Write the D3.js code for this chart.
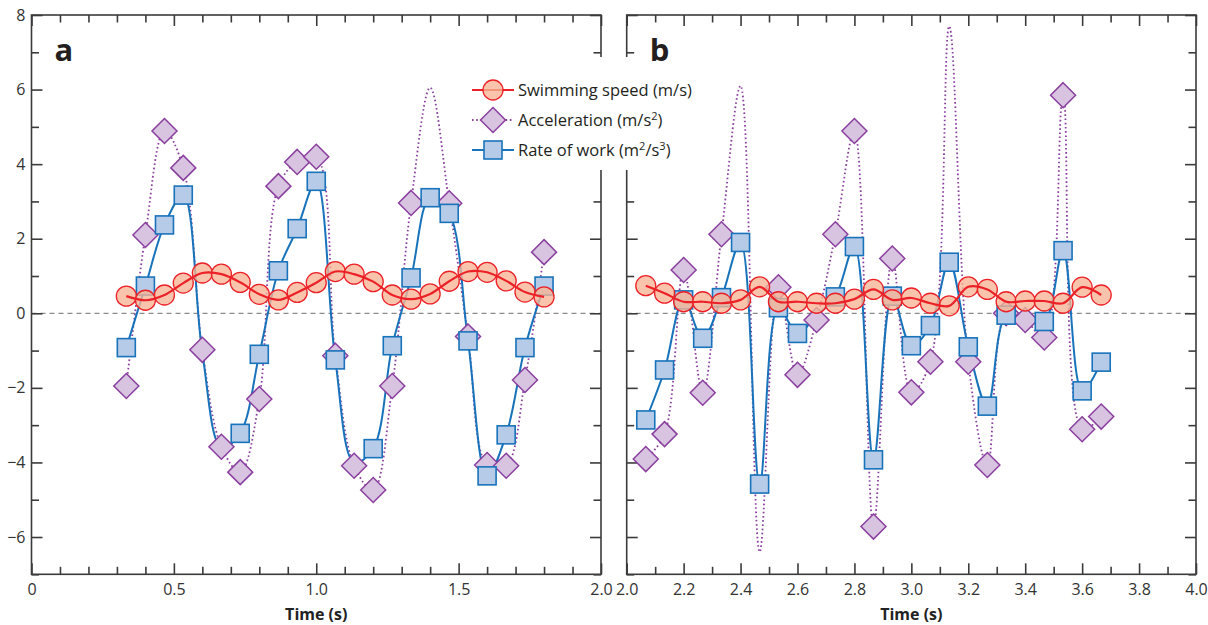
<!DOCTYPE html>
<html>
<head>
<meta charset="utf-8">
<script src="https://cdn.jsdelivr.net/npm/d3@7"></script>
<style>
  html, body { margin: 0; padding: 0; background: #fff; }
  svg { display: block; }
  text { font-family: "Open Sans", "Noto Sans", sans-serif; }
</style>
</head>
<body>
<svg id="chart" width="1208" height="625"></svg>
<script>
// ---------------- DATA ----------------
// Panel a
const timeA  = [0.333,0.4,0.467,0.533,0.6,0.667,0.733,0.8,0.867,0.933,1.0,1.067,1.133,1.2,1.267,1.333,1.4,1.467,1.533,1.6,1.667,1.733,1.8];
const speedA = [0.46,0.35,0.49,0.81,1.08,1.05,0.83,0.51,0.36,0.56,0.82,1.12,1.05,0.85,0.49,0.38,0.52,0.86,1.12,1.1,0.87,0.57,0.44];
const accelA = [-1.95,2.1,4.89,3.9,-0.98,-3.58,-4.26,-2.3,3.41,4.06,4.2,-1.14,-4.09,-4.74,-1.95,2.96,6.05,2.95,-0.62,-4.07,-4.09,-1.79,1.64];
const workA  = [-0.92,0.73,2.37,3.17,-1.06,-3.6,-3.22,-1.1,1.14,2.27,3.54,-1.25,-4.0,-3.63,-0.87,0.95,3.1,2.68,-0.74,-4.36,-3.26,-0.92,0.73];
const workNoMarkerA = [0.6,0.667,1.133];

// Panel b
const timeB  = [2.067,2.133,2.2,2.267,2.333,2.4,2.467,2.533,2.6,2.667,2.733,2.8,2.867,2.933,3.0,3.067,3.133,3.2,3.267,3.333,3.4,3.467,3.533,3.6,3.667];
const speedB = [0.74,0.54,0.31,0.31,0.27,0.36,0.71,0.31,0.31,0.27,0.27,0.38,0.64,0.36,0.41,0.27,0.2,0.71,0.64,0.31,0.33,0.33,0.27,0.70,0.49];
const accelB = [-3.91,-3.24,1.16,-2.13,2.12,6.1,-6.4,0.7,-1.65,-0.18,2.12,4.89,-5.72,1.47,-2.12,-1.3,7.7,-1.3,-4.07,0.0,-0.18,-0.65,5.85,-3.11,-2.77];
const workB  = [-2.86,-1.52,0.36,-0.67,0.42,1.9,-4.58,0.15,-0.54,-0.05,0.44,1.79,-3.93,0.46,-0.87,-0.33,1.37,-0.9,-2.49,-0.05,-0.06,-0.22,1.68,-2.08,-1.31];
const workNoMarkerB = [2.667,3.4];

// Axes
const xDomainA = [0, 2];
const xDomainB = [2, 4];
const yDomain  = [-7, 8];
const xMinorTicksA = [0,0.1,0.2,0.3,0.4,0.5,0.6,0.7,0.8,0.9,1.0,1.1,1.2,1.3,1.4,1.5,1.6,1.7,1.8,1.9,2.0];
const xMajorTicksA = [0,0.5,1.0,1.5,2.0];
const xTickLabelsA = ["0","0.5","1.0","1.5","2.0"];
const xMinorTicksB = [2.0,2.1,2.2,2.3,2.4,2.5,2.6,2.7,2.8,2.9,3.0,3.1,3.2,3.3,3.4,3.5,3.6,3.7,3.8,3.9,4.0];
const xMajorTicksB = [2.0,2.2,2.4,2.6,2.8,3.0,3.2,3.4,3.6,3.8,4.0];
const xTickLabelsB = ["2.0","2.2","2.4","2.6","2.8","3.0","3.2","3.4","3.6","3.8","4.0"];
const yMinorTicks = [-7,-6,-5,-4,-3,-2,-1,0,1,2,3,4,5,6,7,8];
const yMajorTicks = [-6,-4,-2,0,2,4,6,8];
const yTickLabels = ["\u22126","\u22124","\u22122","0","2","4","6","8"];

const panelLabels = ["a", "b"];
const xAxisTitle = "Time (s)";
const legendNames = ["Swimming speed (m/s)", "Acceleration (m/s", "Rate of work (m"];

// ---------------- STYLE ----------------
const RED = "#ec2027", CIRC_FILL = "#f7b394";
const PURPLE = "#8a3f9e", DIAM_FILL = "#d8c4e1";
const BLUE = "#1873bb", SQ_FILL = "#b6cbe8";
const AXIS = "#3b3b3b";
const accelMarkerLimit = 6;

const svg = d3.select("#chart");
const yTop = 15, yBot = 574.3;
const y = d3.scaleLinear().domain(yDomain).range([yBot, yTop]);

const panels = [
  { dom: xDomainA, left: 31.5, right: 601, t: timeA, speed: speedA, accel: accelA, work: workA, noMark: workNoMarkerA,
    minor: xMinorTicksA, major: xMajorTicksA, labels: xTickLabelsA, label: panelLabels[0], yLabels: true },
  { dom: xDomainB, left: 626.7, right: 1196, t: timeB, speed: speedB, accel: accelB, work: workB, noMark: workNoMarkerB,
    minor: xMinorTicksB, major: xMajorTicksB, labels: xTickLabelsB, label: panelLabels[1], yLabels: false }
];

const curve = d3.curveCatmullRom.alpha(0.5);
const labelLayer = [];

panels.forEach(p => {
  const x = d3.scaleLinear().domain(p.dom).range([p.left, p.right]);
  const g = svg.append("g");

  // zero dashed line
  g.append("line").attr("x1", p.left).attr("x2", p.right)
    .attr("y1", y(0)).attr("y2", y(0))
    .attr("stroke", "#8a8a8a").attr("stroke-width", 1.2).attr("stroke-dasharray", "5,4");

  function styleAxis(sel) {
    sel.select(".domain").remove();
    sel.selectAll(".tick line").attr("stroke", AXIS).attr("stroke-width", 1.6);
    sel.selectAll(".tick text").attr("fill", "#333").style("font-size", "16px")
      .style("font-family", "'Open Sans', 'Noto Sans', sans-serif");
  }
  const minorSet = p.minor.filter(v => !p.major.some(m => Math.abs(m - v) < 1e-9));
  const yMinorSet = yMinorTicks.filter(v => !yMajorTicks.includes(v));

  // bottom
  g.append("g").attr("transform", `translate(0,${yBot})`)
    .call(d3.axisBottom(x).tickValues(minorSet).tickSize(-7.5).tickFormat("")).call(styleAxis);
  g.append("g").attr("transform", `translate(0,${yBot})`)
    .call(d3.axisBottom(x).tickValues(p.major).tickSize(-11).tickPadding(9)
      .tickFormat((d, i) => p.labels[i])).call(styleAxis);
  // top
  g.append("g").attr("transform", `translate(0,${yTop})`)
    .call(d3.axisTop(x).tickValues(minorSet).tickSize(-7.5).tickFormat("")).call(styleAxis);
  g.append("g").attr("transform", `translate(0,${yTop})`)
    .call(d3.axisTop(x).tickValues(p.major).tickSize(-11).tickFormat("")).call(styleAxis);
  // left
  g.append("g").attr("transform", `translate(${p.left},0)`)
    .call(d3.axisLeft(y).tickValues(yMinorSet).tickSize(-7.5).tickFormat("")).call(styleAxis);
  g.append("g").attr("transform", `translate(${p.left},0)`)
    .call(d3.axisLeft(y).tickValues(yMajorTicks).tickSize(-11).tickPadding(6)
      .tickFormat((d, i) => p.yLabels ? yTickLabels[i] : "")).call(styleAxis);
  // right
  g.append("g").attr("transform", `translate(${p.right},0)`)
    .call(d3.axisRight(y).tickValues(yMinorSet).tickSize(-7.5).tickFormat("")).call(styleAxis);
  g.append("g").attr("transform", `translate(${p.right},0)`)
    .call(d3.axisRight(y).tickValues(yMajorTicks).tickSize(-11).tickFormat("")).call(styleAxis);

  // frame
  g.append("rect").attr("x", p.left).attr("y", yTop)
    .attr("width", p.right - p.left).attr("height", yBot - yTop)
    .attr("fill", "none").attr("stroke", AXIS).attr("stroke-width", 1.6);

  // axis title
  g.append("text").attr("x", (p.left + p.right) / 2).attr("y", 620)
    .attr("text-anchor", "middle").attr("font-weight", 700).attr("font-size", 16)
    .attr("fill", "#222").text(xAxisTitle);

  labelLayer.push({ x: x(p.dom[0]) + 23, text: p.label });

  const rows = p.t.map((t, i) => ({ t, s: p.speed[i], a: p.accel[i], w: p.work[i] }));

  // lines
  g.append("path").datum(rows)
    .attr("d", d3.line().x(d => x(d.t)).y(d => y(d.a)).curve(curve))
    .attr("fill", "none").attr("stroke", PURPLE).attr("stroke-width", 1.8)
    .attr("stroke-dasharray", "1.6,2.6");
  g.append("path").datum(rows)
    .attr("d", d3.line().x(d => x(d.t)).y(d => y(d.w)).curve(curve))
    .attr("fill", "none").attr("stroke", BLUE).attr("stroke-width", 2);

  // diamonds
  const dr = 12.5;
  g.selectAll(".dia").data(rows.filter(d => Math.abs(d.a) <= accelMarkerLimit)).enter()
    .append("path")
    .attr("d", d => `M${x(d.t)},${y(d.a) - dr}L${x(d.t) + dr},${y(d.a)}L${x(d.t)},${y(d.a) + dr}L${x(d.t) - dr},${y(d.a)}Z`)
    .attr("fill", DIAM_FILL).attr("stroke", PURPLE).attr("stroke-width", 1.5);

  // squares
  const sh = 9;
  g.selectAll(".sq").data(rows.filter(d => !p.noMark.some(m => Math.abs(m - d.t) < 1e-6))).enter()
    .append("rect")
    .attr("x", d => x(d.t) - sh).attr("y", d => y(d.w) - sh)
    .attr("width", 2 * sh).attr("height", 2 * sh)
    .attr("fill", SQ_FILL).attr("stroke", BLUE).attr("stroke-width", 1.6);

  // circles
  g.selectAll(".circ").data(rows).enter().append("circle")
    .attr("cx", d => x(d.t)).attr("cy", d => y(d.s)).attr("r", 10)
    .attr("fill", CIRC_FILL).attr("fill-opacity", 0.78)
    .attr("stroke", RED).attr("stroke-width", 1.3);

  g.append("path").datum(rows)
    .attr("d", d3.line().x(d => x(d.t)).y(d => y(d.s)).curve(curve))
    .attr("fill", "none").attr("stroke", RED).attr("stroke-width", 2.2);
});

// ---------------- LEGEND ----------------
const lg = svg.append("g");
lg.append("rect").attr("x", 462).attr("y", 57).attr("width", 240).attr("height", 113).attr("fill", "#fff");
const lx0 = 472, lx1 = 514, lmx = 493, ltx = 518;
const ly = [90, 120, 150];
lg.append("line").attr("x1", lx0).attr("x2", lx1).attr("y1", ly[0]).attr("y2", ly[0]).attr("stroke", RED).attr("stroke-width", 2);
lg.append("circle").attr("cx", lmx).attr("cy", ly[0]).attr("r", 10).attr("fill", CIRC_FILL).attr("fill-opacity", 0.78).attr("stroke", RED).attr("stroke-width", 1.3);
lg.append("line").attr("x1", lx0).attr("x2", lx1).attr("y1", ly[1]).attr("y2", ly[1]).attr("stroke", PURPLE).attr("stroke-width", 1.8).attr("stroke-dasharray", "1.6,2.6");
lg.append("path").attr("d", `M${lmx},${ly[1]-12.5}L${lmx+12.5},${ly[1]}L${lmx},${ly[1]+12.5}L${lmx-12.5},${ly[1]}Z`)
  .attr("fill", DIAM_FILL).attr("stroke", PURPLE).attr("stroke-width", 1.5);
lg.append("line").attr("x1", lx0).attr("x2", lx1).attr("y1", ly[2]).attr("y2", ly[2]).attr("stroke", BLUE).attr("stroke-width", 2);
lg.append("rect").attr("x", lmx - 9).attr("y", ly[2] - 9).attr("width", 18).attr("height", 18)
  .attr("fill", SQ_FILL).attr("stroke", BLUE).attr("stroke-width", 1.6);

function legendText(yy) {
  return lg.append("text").attr("x", ltx).attr("y", yy + 5.5).attr("font-size", 16.5).attr("fill", "#231f20");
}
legendText(ly[0]).text(legendNames[0]);
const t2 = legendText(ly[1]);
t2.append("tspan").text(legendNames[1]);
t2.append("tspan").attr("dy", -6).attr("font-size", 11).text("2");
t2.append("tspan").attr("dy", 6).text(")");
const t3 = legendText(ly[2]);
t3.append("tspan").text(legendNames[2]);
t3.append("tspan").attr("dy", -6).attr("font-size", 11).text("2");
t3.append("tspan").attr("dy", 6).text("/s");
t3.append("tspan").attr("dy", -6).attr("font-size", 11).text("3");
t3.append("tspan").attr("dy", 6).text(")");

// panel labels on top
labelLayer.forEach(l => {
  svg.append("text").attr("x", l.x).attr("y", 61)
    .attr("font-weight", 700).attr("font-size", 31).attr("fill", "#231f20").text(l.text);
});
</script>
</body>
</html>
